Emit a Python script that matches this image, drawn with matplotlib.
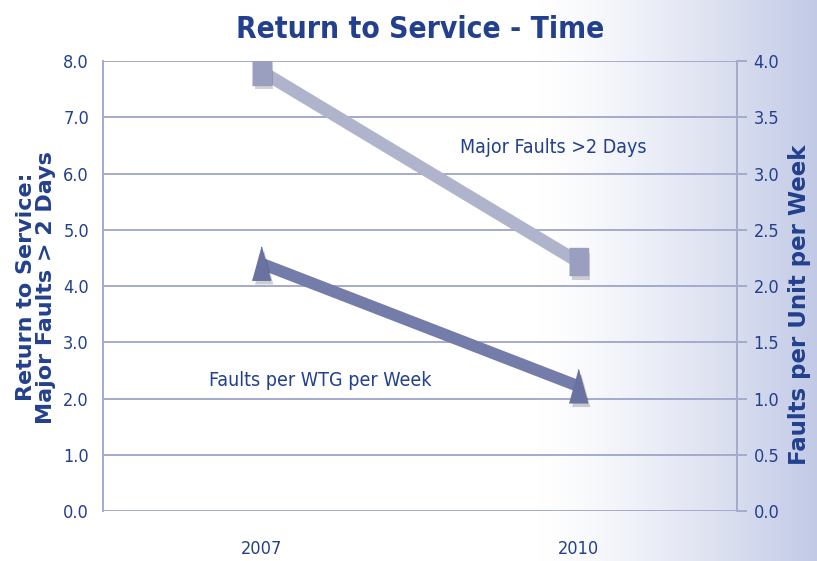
import matplotlib.pyplot as plt
import matplotlib.patheffects as pe
import numpy as np

years = ["2007", "2010"]
major_faults_days = [7.82, 4.43]    # left axis
faults_per_week = [2.2, 1.11]       # right axis

navy = "#23408e"
grid_col = "#a3aacd"

plt.rcParams["font.family"] = ["DejaVu Sans"]
plt.rcParams["font.stretch"] = "condensed"

fig = plt.figure(figsize=(8.17, 5.61), dpi=100)

# background gradient (white -> lavender on the right)
bg = fig.add_axes([0, 0, 1, 1], zorder=-10)
xs = np.linspace(0, 1, 400)
t = np.clip((xs - 0.66) / 0.34, 0, 1) ** 1.3
c0 = np.array([1.0, 1.0, 1.0])
c1 = np.array([0.76, 0.79, 0.90])
grad = (c0[None, :] * (1 - t[:, None]) + c1[None, :] * t[:, None])[None, :, :]
bg.imshow(grad, aspect="auto", extent=[0, 1, 0, 1])
bg.axis("off")

ax = fig.add_axes([0.126, 0.089, 0.776, 0.802])
ax.patch.set_alpha(0)
x = np.arange(len(years))

ax.set_ylim(0, 8)
ax.set_xlim(-0.5, 1.5)
ax.set_yticks(np.arange(0, 8.1, 1))
ax.set_yticklabels([f"{v:.1f}" for v in np.arange(0, 8.1, 1)])
ax.yaxis.grid(True, color=grid_col, lw=1.4)
ax.set_axisbelow(True)
ax.set_xticks(x)
ax.set_xticklabels(years)
ax.tick_params(axis="y", length=0, colors=navy, labelsize=13, pad=10)
ax.tick_params(axis="x", length=0, colors=navy, labelsize=13, pad=21)
for s in ["top", "right", "bottom"]:
    ax.spines[s].set_visible(False)
ax.spines["left"].set_color(grid_col)
ax.spines["left"].set_linewidth(1.4)

shadow = [pe.SimplePatchShadow(offset=(2, -3), alpha=0.22), pe.Normal()]
rect = [(-0.67, -1), (0.67, -1), (0.67, 1), (-0.67, 1)]
tri = [(-0.55, -1), (0.55, -1), (0, 1)]

ax.plot(x, major_faults_days, color="#afb3cc", lw=9, solid_capstyle="butt", zorder=3)
ax.plot(x, major_faults_days, ls="none", marker=rect, ms=19.5, color="#9a9ebf",
        mec="#9a9ebf", zorder=4, path_effects=shadow)

ax2 = ax.twinx()
ax2.set_ylim(0, 4)
ax2.set_yticks(np.arange(0, 4.01, 0.5))
ax2.set_yticklabels([f"{v:.1f}" for v in np.arange(0, 4.01, 0.5)])
ax2.tick_params(axis="y", length=7, width=1.4, color=grid_col, labelcolor=navy, labelsize=13, pad=5)
for s in ["top", "left", "bottom"]:
    ax2.spines[s].set_visible(False)
ax2.spines["right"].set_color(grid_col)
ax2.spines["right"].set_linewidth(1.4)
ax2.plot(x, faults_per_week, color="#747ca9", lw=8.5, solid_capstyle="butt", zorder=3)
ax2.plot(x, faults_per_week, ls="none", marker=tri, ms=24, color="#6a729f",
         mec="#6a729f", zorder=4, path_effects=shadow)

ax2.text(0.92, 3.23, "Major Faults >2 Days", color=navy, fontsize=14, ha="center", va="center")
ax2.text(0.185, 1.16, "Faults per WTG per Week", color=navy, fontsize=14, ha="center", va="center")

fig.text(0.514, 0.947, "Return to Service - Time", color=navy, fontsize=21.5,
         fontweight="bold", ha="center", va="center")
fig.text(0.044, 0.488, "Return to Service:\nMajor Faults > 2 Days", color=navy, fontsize=16,
         fontweight="bold", rotation=90, ha="center", va="center", fontstretch="normal",
         linespacing=0.95)
fig.text(0.979, 0.456, "Faults per Unit per Week", color=navy, fontsize=16.5,
         fontweight="bold", rotation=90, ha="center", va="center", fontstretch="normal")

fig.savefig("out.png", dpi=100)
